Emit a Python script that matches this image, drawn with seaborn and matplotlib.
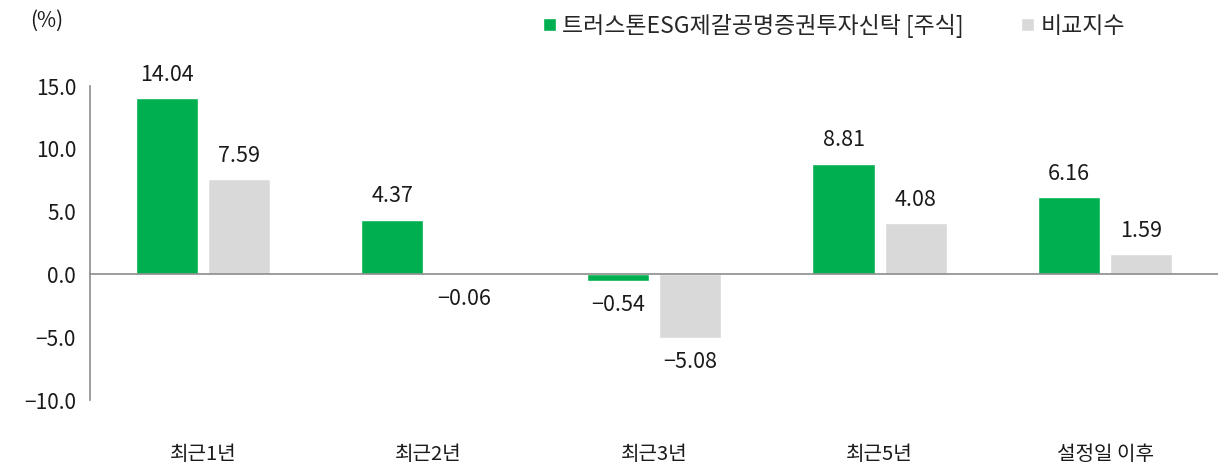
import pandas as pd
import matplotlib.pyplot as plt
import seaborn as sns
from matplotlib.ticker import FixedLocator

# ---------------- 데이터 ----------------
categories = ['최근1년', '최근2년', '최근3년', '최근5년', '설정일 이후']
fund_name = '트러스톤ESG제갈공명증권투자신탁 [주식]'
bench_name = '비교지수'
fund_values = [14.04, 4.37, -0.54, 8.81, 6.16]
bench_values = [7.59, -0.06, -5.08, 4.08, 1.59]
y_ticks = [-10, -5, 0, 5, 10, 15]

df = pd.DataFrame({
    'period': categories * 2,
    'series': [fund_name] * len(categories) + [bench_name] * len(categories),
    'value': fund_values + bench_values,
})

sns.set_style('white')
plt.rcParams['font.family'] = ['Noto Sans CJK KR', 'DejaVu Sans']

GREEN = '#00B050'
GREY = '#D9D9D9'
AXIS = '#8C8C8C'
TXT = '#1a1a1a'

def fmt(v, nd):
    s = f'{abs(v):.{nd}f}'
    return ('\u2212' + s) if v < 0 else s

fig = plt.figure(figsize=(12.18, 4.73), dpi=100)
ax = fig.add_axes([90 / 1218, 1 - 400 / 473, 1 - 90 / 1218, (400 - 86) / 473])

sns.barplot(data=df, x='period', y='value', hue='series',
            palette=[GREEN, GREY], saturation=1, width=0.64, gap=0.14,
            order=categories, hue_order=[fund_name, bench_name], ax=ax)

for cont in ax.containers:
    ax.bar_label(cont, labels=[fmt(b.get_height(), 2) for b in cont],
                 padding=9, fontsize=15.5, color=TXT)

# ---------------- 축 ----------------
ax.set_ylim(-10, 15)
ax.set_xlim(-0.5, len(categories) - 0.5)
ax.set_yticks(y_ticks)
ax.set_yticklabels([fmt(t, 1) for t in y_ticks], fontsize=15, color=TXT)
ax.set_xlabel('')
ax.set_ylabel('')

for s in ['top', 'right']:
    ax.spines[s].set_visible(False)
ax.spines['left'].set_color(AXIS)
ax.spines['left'].set_linewidth(1.2)
ax.spines['bottom'].set_position(('data', 0))
ax.spines['bottom'].set_color(AXIS)
ax.spines['bottom'].set_linewidth(1.2)

ax.tick_params(axis='y', which='major', length=5, width=1, color=AXIS, direction='out', pad=5)
ax.xaxis.set_minor_locator(FixedLocator([i + 0.5 for i in range(len(categories) - 1)]))
ax.tick_params(axis='x', which='minor', length=5, width=1, color=AXIS, direction='out')
ax.tick_params(axis='x', which='major', length=0, pad=122, labelsize=14.5, labelcolor=TXT)

# ---------------- 범례 / 단위 ----------------
handles, labels = ax.get_legend_handles_labels()
ax.legend(handles, labels, loc='upper right', bbox_to_anchor=(1146 / 1218, 1.015),
          bbox_transform=fig.transFigure, ncol=2, frameon=False, fontsize=16.5,
          handlelength=0.55, handleheight=0.55, handletextpad=0.3, columnspacing=2.5)

fig.text(47 / 1218, 1 - 21 / 473, '(%)', fontsize=15, ha='center', va='center', color=TXT)

fig.savefig('out.png', dpi=100)
